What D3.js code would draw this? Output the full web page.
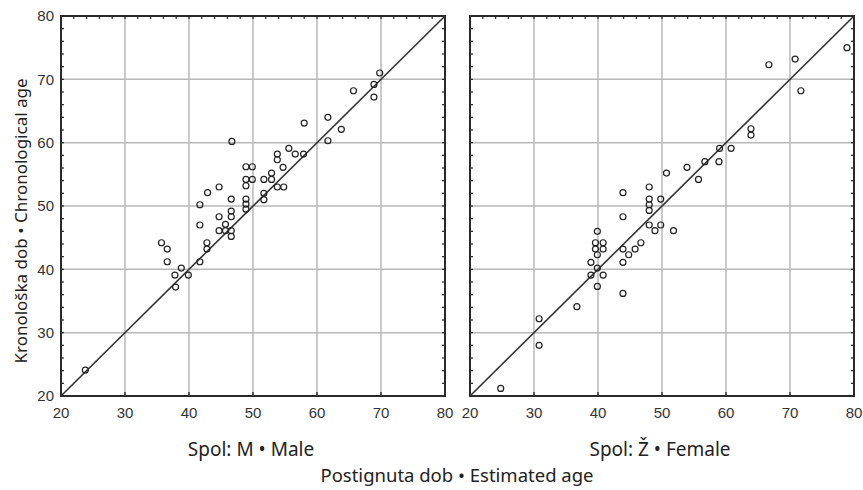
<!DOCTYPE html>
<html>
<head>
<meta charset="utf-8">
<script src="https://cdn.jsdelivr.net/npm/d3@7"></script>
<style>
  body { margin: 0; background: #fff; }
  svg { display: block; }
</style>
</head>
<body>
<script>
// estimated age (x) and chronological age (y)
const maleX = [23.8, 35.7, 36.6, 36.6, 37.9, 37.8, 38.8, 39.9, 41.7, 41.7, 41.7, 42.8, 42.8, 42.9,
  44.7, 44.7, 44.7, 45.7, 45.7, 46.6, 46.6, 46.6, 46.6, 46.6, 46.7, 48.9, 49.9, 48.9, 49.9, 48.9,
  48.9, 48.9, 48.9, 51.7, 51.7, 51.7, 52.9, 52.9, 53.8, 54.8, 53.8, 53.8, 54.7, 55.6, 56.6, 57.9,
  58.0, 61.7, 61.7, 63.8, 65.7, 68.9, 68.9, 69.8]
const maleY = [24.1, 44.2, 43.2, 41.2, 37.2, 39.1, 40.2, 39.1, 41.2, 47.0, 50.2, 43.2, 44.2, 52.1,
  53.0, 48.3, 46.1, 47.1, 46.1, 51.1, 49.2, 48.3, 46.1, 45.2, 60.2, 56.2, 56.2, 54.2, 54.2, 53.2,
  51.1, 50.3, 49.5, 54.2, 52.0, 51.0, 55.2, 54.2, 53.0, 53.0, 58.2, 57.3, 56.1, 59.1, 58.2, 58.2,
  63.1, 64.0, 60.3, 62.1, 68.2, 67.2, 69.2, 71.0]

const femaleX = [24.8, 30.8, 30.8, 36.7, 38.9, 38.9, 39.9, 39.9, 40.8, 39.6, 40.8, 39.6, 40.8, 39.9,
  39.9, 43.9, 43.9, 43.9, 44.8, 45.8, 46.7, 43.9, 43.9, 48.0, 48.0, 48.0, 48.0, 49.8, 48.0, 49.8,
  48.9, 51.8, 50.7, 53.9, 55.7, 56.7, 58.9, 59.0, 60.8, 63.9, 63.9, 66.7, 70.8, 71.7, 78.9]
const femaleY = [21.2, 28.0, 32.2, 34.1, 39.1, 41.1, 37.3, 46.0, 39.1, 44.2, 44.2, 43.2, 43.2, 42.3,
  40.2, 36.2, 41.1, 43.2, 42.3, 43.2, 44.2, 48.3, 52.1, 53.0, 51.1, 50.2, 49.3, 51.1, 47.0, 47.0,
  46.1, 46.1, 55.2, 56.1, 54.2, 57.0, 57.0, 59.1, 59.1, 62.2, 61.2, 72.3, 73.2, 68.2, 75.0]

const ticks = [20, 30, 40, 50, 60, 70, 80]
const panelTitles = ['Spol: M \u2022 Male', 'Spol: \u017d \u2022 Female']
const xTitle = 'Postignuta dob \u2022 Estimated age'
const yTitle = 'Kronolo\u0161ka dob \u2022 Chronological age'

const width = 863
const height = 490
const plotTop = 16, plotBottom = 396
const panelLeft = [61, 470]
const panelWidth = 384

const svg = d3.select('body')
  .append('svg')
  .attr('width', width)
  .attr('height', height)

const yScale = d3.scaleLinear()
  .domain([20, 80])
  .range([plotBottom, plotTop])

const numFont = '"Liberation Sans", Arial, sans-serif'
const textFont = '"Noto Sans", sans-serif'

function drawPanel(i, xs, ys) {
  const x0 = panelLeft[i]
  const xScale = d3.scaleLinear()
    .domain([20, 80])
    .range([x0, x0 + panelWidth])
  const g = svg.append('g')

  // grid
  g.selectAll('.vgrid')
    .data(ticks.slice(1, -1))
    .enter().append('line')
    .attr('x1', d => xScale(d)).attr('x2', d => xScale(d))
    .attr('y1', plotTop).attr('y2', plotBottom)
    .attr('stroke', '#b8b8b8').attr('stroke-width', 1.5)
  g.selectAll('.hgrid')
    .data(ticks.slice(1, -1))
    .enter().append('line')
    .attr('y1', d => yScale(d)).attr('y2', d => yScale(d))
    .attr('x1', x0).attr('x2', x0 + panelWidth)
    .attr('stroke', '#b8b8b8').attr('stroke-width', 1.5)

  // minor ticks, every 2 units, pointing in
  const minor = d3.range(22, 80, 2)
  g.selectAll('.tl').data(minor).enter().append('line')
    .attr('x1', x0).attr('x2', x0 + 3)
    .attr('y1', d => yScale(d)).attr('y2', d => yScale(d))
    .attr('stroke', '#333').attr('stroke-width', 1.3)
  g.selectAll('.tr').data(minor).enter().append('line')
    .attr('x1', x0 + panelWidth).attr('x2', x0 + panelWidth - 3)
    .attr('y1', d => yScale(d)).attr('y2', d => yScale(d))
    .attr('stroke', '#333').attr('stroke-width', 1.3)
  g.selectAll('.tt').data(minor).enter().append('line')
    .attr('y1', plotTop).attr('y2', plotTop + 3)
    .attr('x1', d => xScale(d)).attr('x2', d => xScale(d))
    .attr('stroke', '#333').attr('stroke-width', 1.3)
  g.selectAll('.tb').data(ticks.slice(1, -1)).enter().append('line')
    .attr('y1', plotBottom).attr('y2', plotBottom - 4)
    .attr('x1', d => xScale(d)).attr('x2', d => xScale(d))
    .attr('stroke', '#333').attr('stroke-width', 1.5)

  // frame
  g.append('rect')
    .attr('x', x0).attr('y', plotTop)
    .attr('width', panelWidth).attr('height', plotBottom - plotTop)
    .attr('fill', 'none').attr('stroke', '#2a2a2a').attr('stroke-width', 2)

  // identity line
  const line = d3.line().x(d => xScale(d)).y(d => yScale(d))
  g.append('path')
    .attr('d', line([20, 80]))
    .attr('stroke', '#333').attr('stroke-width', 1.6).attr('fill', 'none')

  // points
  g.selectAll('circle')
    .data(xs)
    .enter().append('circle')
    .attr('cx', d => xScale(d))
    .attr('cy', (d, k) => yScale(ys[k]))
    .attr('r', 3)
    .attr('fill', 'none')
    .attr('stroke', '#222')
    .attr('stroke-width', 1.2)

  // x tick labels
  g.selectAll('.xl').data(ticks).enter().append('text')
    .attr('x', d => xScale(d))
    .attr('y', 418)
    .attr('text-anchor', 'middle')
    .attr('font-family', numFont).attr('font-size', 15)
    .attr('fill', '#333')
    .text(d => d)

  g.append('text')
    .attr('x', x0 + panelWidth / 2 - 2)
    .attr('y', 456)
    .attr('text-anchor', 'middle')
    .attr('font-family', textFont).attr('font-size', 19)
    .attr('fill', '#222')
    .text(panelTitles[i])
}

drawPanel(0, maleX, maleY)
drawPanel(1, femaleX, femaleY)

// y tick labels
svg.selectAll('.yl').data(ticks).enter().append('text')
  .attr('x', 54)
  .attr('y', d => yScale(d) + 5.4)
  .attr('text-anchor', 'end')
  .attr('font-family', numFont).attr('font-size', 15)
  .attr('fill', '#333')
  .text(d => d)

svg.append('text')
  .attr('x', 457)
  .attr('y', 482)
  .attr('text-anchor', 'middle')
  .attr('font-family', textFont).attr('font-size', 18.5)
  .attr('fill', '#222')
  .text(xTitle)

svg.append('text')
  .attr('transform', 'translate(27,221) rotate(-90)')
  .attr('text-anchor', 'middle')
  .attr('font-family', textFont).attr('font-size', 17)
  .attr('fill', '#222')
  .text(yTitle)
</script>
</body>
</html>
